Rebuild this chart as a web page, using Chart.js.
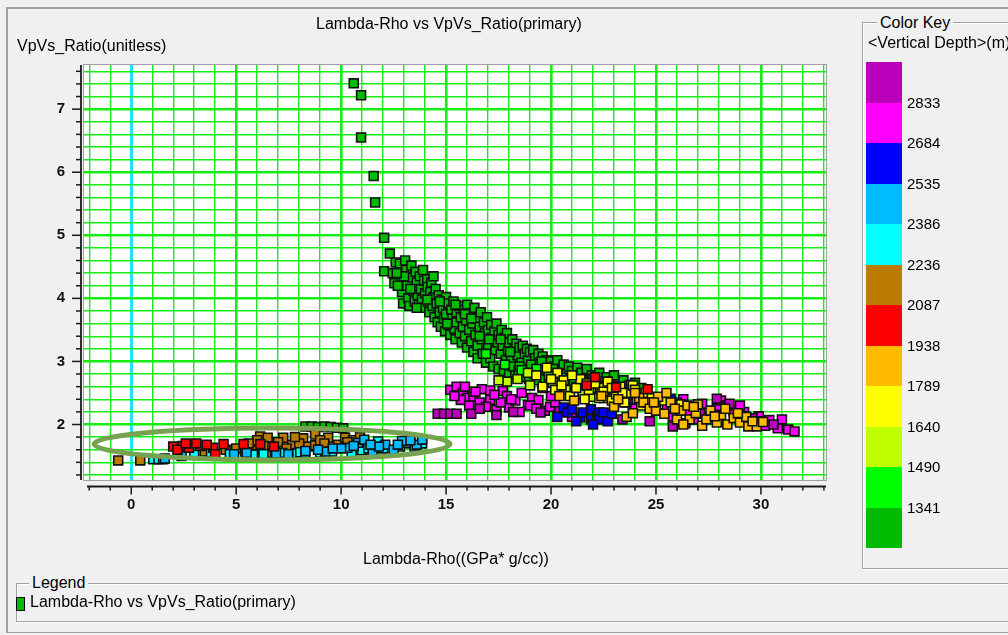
<!DOCTYPE html>
<html><head><meta charset="utf-8">
<script src="https://cdn.jsdelivr.net/npm/chart.js@4/dist/chart.umd.min.js"></script>
<style>
html,body{margin:0;padding:0;background:#f0f0f0;}
body{width:1008px;height:635px;position:relative;overflow:hidden;font-family:"Liberation Sans",Arial,sans-serif;font-size:16px;color:#000;}
#c{position:absolute;left:0;top:0;}
.t{position:absolute;white-space:nowrap;line-height:18px;}
.ln{position:absolute;background:#a0a0a0;}
.gb{position:absolute;border:1px solid #a0a0a0;box-shadow:inset 1px 1px 0 #fff,1px 1px 0 #fff;}
.lab{background:#f0f0f0;padding:0 3px;}
#bar{position:absolute;left:866px;top:62px;width:36px;height:486px;display:flex;flex-direction:column;}
#bar div{flex:1;}
.kl{position:absolute;left:907px;font-size:15px;line-height:18px;}
#lgm{position:absolute;left:16px;top:597px;width:7px;height:12px;border:1.5px solid #000;}
</style></head><body>
<canvas id="c" width="1008" height="635"></canvas>
<div class="ln" style="left:6px;top:7px;width:1002px;height:2px"></div>
<div class="ln" style="left:6px;top:7px;width:2px;height:626px"></div>
<div class="ln" style="left:6px;top:632px;width:1002px;height:1px"></div>
<div class="gb" style="left:862px;top:22px;width:200px;height:545px"></div>
<div class="gb" style="left:16px;top:583px;width:1000px;height:37px"></div>
<div class="t" id="title" style="left:316px;top:15px"></div>
<div class="t" id="ytitle" style="left:17px;top:37px"></div>
<div class="t" id="xtitle" style="left:363px;top:550px"></div>
<div class="t lab" id="ckey" style="left:877px;top:14px"></div>
<div class="t" id="cunit" style="left:868px;top:34px"></div>
<div id="bar"></div>
<div class="t lab" id="lgtitle" style="left:29px;top:574px"></div>
<div id="lgm"></div>
<div class="t" id="lgtext" style="left:30px;top:593px"></div>
<script>
// ---------- text ----------
const chartTitle = 'Lambda-Rho vs VpVs_Ratio(primary)';
const xAxisTitle = 'Lambda-Rho((GPa* g/cc))';
const yAxisTitle = 'VpVs_Ratio(unitless)';
const keyTitle = 'Color Key';
const keyUnit = '<Vertical Depth>(m)';
const legendTitle = 'Legend';
const seriesName = 'Lambda-Rho vs VpVs_Ratio(primary)';

// ---------- colour key (top to bottom) ----------
const keyColors = ['#bb00bb','#ff00ff','#0000ff','#00bbff','#00ffff','#bb7a00','#ff0000','#ffbb00','#ffff00','#bfff00','#00ff00','#00bb00'];
const keyLabels = ['2833','2684','2535','2386','2236','2087','1938','1789','1640','1490','1341'];

// ---------- axis ranges ----------
const xRange = [-2.25, 33.1];
const yRange = [1.12, 7.7];
const xStep = 1, yStep = 0.2;
const xLabelEvery = 5, yLabelEvery = 1;

// ---------- annotation ellipse (data units) ----------
const ellipseCenter = [6.71, 1.69];
const ellipseRadii = [8.48, 0.253];

// ---------- series values [Lambda-Rho, VpVs] by depth bin ----------
const depthBelow1341 = [
[10.6,7.41],[10.95,7.22],[10.95,6.55],[11.55,5.94],[11.62,5.52],[12.05,4.96],[12.32,4.71],[12.6,4.57],[12.05,4.43],[12.46,4.4],[12.54,4.24],
[12.8,4.55],[12.9,4.3],[12.9,4.1],[12.95,3.92],[13.05,4.6],[13.1,4.45],[13.15,4.2],[13.2,4.0],[13.25,3.88],[13.35,4.52],[13.4,4.33],[13.45,4.12],[13.5,3.95],
[13.55,4.42],[13.6,4.25],[13.65,4.05],[13.7,3.9],[13.75,4.35],[13.8,4.15],[13.85,3.98],[13.9,4.45],[13.95,4.28],[14.0,3.85],[14.0,4.08],
[14.1,4.3],[14.12,4.18],[14.15,3.95],[14.2,3.78],[14.25,4.1],[14.3,4.25],[14.35,3.88],[14.4,4.02],[14.45,3.7],[14.5,4.15],
[14.55,3.92],[14.6,3.62],[14.65,4.05],[14.7,3.78],[14.75,3.55],[14.8,3.98],[14.85,3.85],[14.9,3.68],[14.95,3.48],[15.0,4.02],[15.0,3.75],
[15.1,3.92],[15.12,3.58],[15.2,3.42],[15.25,3.82],[15.3,3.68],[15.35,3.95],[15.4,3.52],[15.45,3.35],[15.5,3.78],[15.5,3.62],
[15.6,3.88],[15.65,3.45],[15.7,3.7],[15.75,3.3],[15.8,3.55],[15.85,3.82],[15.9,3.4],[15.95,3.65],[16.0,3.22],[16.0,3.9],
[16.1,3.5],[16.15,3.75],[16.2,3.32],[16.25,3.6],[16.3,3.15],[16.35,3.85],[16.4,3.42],[16.45,3.68],[16.5,3.25],[16.5,3.05],
[16.6,3.55],[16.65,3.78],[16.7,3.35],[16.75,3.12],[16.8,3.62],[16.85,3.45],[16.9,2.98],[16.95,3.7],[17.0,3.25],[17.0,3.5],
[17.1,3.05],[17.15,3.58],[17.2,3.38],[17.25,2.92],[17.3,3.48],[17.35,3.18],[17.4,3.6],[17.45,3.3],[17.5,2.88],[17.5,3.42],
[17.6,3.12],[17.65,3.5],[17.7,3.25],[17.75,2.85],[17.8,3.38],[17.85,3.02],[17.9,3.45],[17.95,3.18],[18.0,2.8],[18.0,3.3],
[18.1,3.05],[18.15,3.35],[18.2,2.92],[18.25,3.2],[18.3,2.78],[18.35,3.28],[18.4,3.1],[18.45,2.85],[18.5,3.22],
[18.6,2.98],[18.65,3.25],[18.7,2.75],[18.75,3.12],[18.8,2.88],[18.85,3.2],[18.9,3.02],[18.95,2.72],[19.0,3.15],
[19.1,2.92],[19.15,3.18],[19.2,2.8],[19.25,3.05],[19.3,2.7],[19.4,3.12],[19.45,2.95],[19.5,2.82],
[19.6,3.08],[19.65,2.9],[19.7,2.72],[19.8,3.02],[19.85,2.85],[19.9,2.68],[20.0,3.0],[20.0,2.8],
[20.15,2.92],[20.25,2.75],[20.3,3.02],[20.45,2.85],[20.55,2.68],[20.6,2.95],[20.75,2.8],[20.85,2.92],[20.9,2.62],[21.0,2.85],
[21.15,2.75],[21.25,2.9],[21.35,2.62],[21.45,2.82],[21.6,2.72],[21.7,2.88],[21.85,2.6],[21.95,2.78],
[22.15,2.7],[22.3,2.82],[22.5,2.62],[22.65,2.75],[22.85,2.68],[23.0,2.78],[23.2,2.62],[23.45,2.7],[23.7,2.62],[24.0,2.66],[24.3,2.58],
[13.0,4.35],[13.3,4.15],[13.6,3.85],[14.1,3.98],[14.4,4.35],[14.7,3.95],[15.05,3.6],[15.45,3.9],[15.9,3.75],[16.2,3.68],[16.6,3.4],[17.05,3.35],[17.6,3.35],[18.05,3.15],[18.5,2.92],[19.05,2.95],[19.55,3.0],[20.1,2.88],[20.7,2.72],[21.5,2.7],[22.0,2.72],[12.7,4.2],[12.65,4.4],
[8.3,1.97],[8.6,1.97],[8.9,1.96],[9.2,1.97],[9.5,1.96],[9.8,1.95],[10.1,1.94]
];
const depth1341to1490 = [[17.8,2.95],[18.6,2.86],[19.3,2.88],[19.9,2.78],[20.5,2.74],[21.1,2.68],[21.8,2.66],[22.6,2.6],[16.9,3.12],[20.2,2.62]];
const depth1490to1640 = [[18.4,2.72],[19.0,2.62],[19.6,2.58],[20.1,2.66],[20.7,2.55],[21.2,2.6],[21.9,2.52],[22.4,2.58],[23.0,2.55],[21.5,2.48],[22.0,2.44],[18.9,2.82],[23.5,2.5],[17.9,2.68],[17.5,2.7],[22.5,2.42]];
const depth1640to1789 = [[19.3,2.78],[19.8,2.9],[20.3,2.82],[19.6,2.6],[20.2,2.55],[20.6,2.7],[20.9,2.45],[21.2,2.58],[21.4,2.72],[21.6,2.4],[21.8,2.55],[22.1,2.65],[22.3,2.42],[22.5,2.52],[22.7,2.68],[22.9,2.38],[23.1,2.48],[23.3,2.6],[23.5,2.35],[23.7,2.5],[23.9,2.62],[24.1,2.4],[24.3,2.3],[24.5,2.5],[24.8,2.42],[25.1,2.32],[25.4,2.38],[25.8,2.28],[26.2,2.32],[20.0,2.72],[21.0,2.78],
[20.5,2.62],[21.7,2.65],[22.9,2.58],[24.0,2.55],[24.6,2.35],[23.4,2.5]];
const depth1789to1938 = [[20.4,2.45],[21.1,2.38],[22.4,2.45],[23.0,2.28],[23.6,2.12],[23.9,2.18],[24.2,2.42],[24.4,2.35],[24.7,2.25],[25.0,2.22],[25.1,2.44],[25.4,2.17],[25.7,2.35],[26.0,2.08],[26.2,2.22],[26.5,2.3],[26.6,2.08],[26.9,2.18],[27.2,1.98],[27.4,2.08],[27.6,2.22],[27.9,2.03],[28.1,2.15],[28.4,2.0],[28.7,2.1],[29.0,2.03],[29.3,2.12],[29.4,1.97],[29.8,1.97],[30.1,2.04],[24.0,2.5],[25.5,2.5],[27.0,2.32],[28.3,2.25],[23.2,2.4],[26.3,2.0],
[24.9,2.35],[25.9,2.25],[27.8,2.13],[28.9,2.18],[29.6,2.05],[26.8,2.28]];
const depth1938to2087 = [[22.1,2.75],[23.1,2.59],[24.6,2.56],[21.7,2.62],
[2.0,1.65],[2.45,1.66],[2.75,1.63],[3.3,1.66],[3.9,1.63],[4.0,1.53],[4.4,1.69],[5.35,1.69],[6.15,1.69],[6.8,1.65],[3.1,1.7],[2.2,1.6],[3.6,1.68],[2.6,1.7]];
const depth2087to2236 = [[-0.62,1.43],[0.43,1.43],[4.8,1.57],[5.43,1.57],[5.8,1.59],[5.9,1.53],[6.14,1.81],[6.5,1.79],[6.5,1.55],[6.86,1.57],[7.24,1.79],[7.67,1.68],[7.8,1.53],[8.19,1.78],[8.19,1.53],[8.43,1.65],[8.76,1.67],[8.76,1.84],[9.38,1.79],[9.86,1.68],[10.19,1.79],[10.57,1.75],[7.0,1.72],[9.0,1.75],[2.3,1.58],[3.5,1.57],[4.5,1.6],[10.9,1.8],[6.0,1.75],
[5.0,1.62],[6.3,1.66],[7.4,1.62],[8.0,1.7],[9.2,1.7],[10.3,1.72],[5.6,1.7],[7.8,1.8]];
const depth2236to2386 = [[1.05,1.45],[1.3,1.45],[1.52,1.45],[4.7,1.53],[7.9,1.54],[8.05,1.56],[8.29,1.55],[9.57,1.57],[11.0,1.59],[11.76,1.73],[12.33,1.57],[12.8,1.65],[13.3,1.7],[13.86,1.7],[10.5,1.56],[5.8,1.52],
[3.0,1.52],[3.8,1.55],[6.3,1.53],[7.2,1.55],[9.0,1.55],[11.3,1.62],[12.0,1.62],[13.5,1.65]];
const depth2386to2535 = [[10.3,1.63],[10.8,1.71],[11.1,1.76],[11.5,1.57],[12.1,1.68],[12.5,1.6],[13.05,1.71],[13.6,1.68],[13.86,1.76],[9.24,1.57],[8.9,1.6],[7.48,1.53],[4.9,1.53],[1.6,1.46],[11.8,1.65],[12.9,1.74],[10.0,1.62],[11.4,1.68],[6.9,1.54],[9.6,1.62],
[2.4,1.5],[5.5,1.55],[8.3,1.58],[10.6,1.66],[12.7,1.68],[13.3,1.75]];
const depth2535to2684 = [[20.6,2.27],[20.8,2.19],[21.0,2.24],[21.4,2.11],[21.5,2.19],[21.9,2.24],[21.9,2.08],[22.2,2.13],[22.3,2.19],[22.3,2.08],[22.5,2.19],[22.7,2.05],[22.9,2.17],[23.6,2.35],[25.7,2.41],[28.9,2.13],[29.1,2.13],[21.2,2.05],[22.0,2.0],[20.3,2.12]];
const depth2684to2833 = [[15.2,2.55],[15.5,2.6],[15.8,2.5],[16.0,2.42],[16.3,2.44],[16.6,2.35],[16.7,2.56],[17.1,2.54],[17.1,2.39],[17.4,2.23],[17.7,2.53],[17.9,2.45],[18.0,2.27],[18.3,2.38],[18.6,2.5],[18.9,2.31],[19.1,2.42],[19.4,2.39],[19.7,2.22],[19.95,2.28],[20.2,2.35],[15.7,2.39],[16.1,2.3],[16.9,2.28],[17.6,2.35],[18.5,2.2],[20.5,2.2],[21.0,2.12],[15.4,2.45],
[16.4,2.52],[17.3,2.47],[18.1,2.4],[19.0,2.3],[15.9,2.6],[20.0,2.45],[19.3,2.25],
[25.5,2.29],[25.8,2.13],[26.3,2.4],[26.6,2.21],[26.8,2.08],[27.2,2.33],[27.9,2.25],[28.1,2.38],[28.7,2.21],[29.5,2.08],[29.9,2.13],[30.4,2.07],[30.8,1.94],[31.0,2.08],[31.3,1.92],[31.6,1.89],[27.6,2.12],[28.4,2.3],[29.2,2.2],[26.0,2.35],[24.8,2.3],[23.9,2.25],[30.2,1.98],
[27.0,2.2],[28.0,2.15],[30.0,2.05],[29.0,2.3]];
const depthAbove2833 = [[14.6,2.17],[14.9,2.17],[15.2,2.17],[15.5,2.17],[16.2,2.17],[17.4,2.15],[23.8,2.63],[26.0,2.25],[26.8,2.28],[27.1,2.17],[27.9,2.41],[28.5,2.33],[25.8,1.97],[26.4,2.02],[24.7,2.05],[23.4,2.08],[19.5,2.19],[20.4,2.21],[18.2,2.2],[16.6,2.25],[29.6,2.1],[30.6,2.0]];

// series in colour-key order (top to bottom) with draw order (1 = on top)
const seriesData = [depthAbove2833, depth2684to2833, depth2535to2684, depth2386to2535, depth2236to2386, depth2087to2236, depth1938to2087, depth1789to1938, depth1640to1789, depth1490to1640, depth1341to1490, depthBelow1341];
const drawOrder = [9, 10, 8, 5, 6, 7, 1, 2, 3, 4, 11, 12];

// ---------- HTML text ----------
document.getElementById('title').textContent = chartTitle;
document.getElementById('ytitle').textContent = yAxisTitle;
document.getElementById('xtitle').textContent = xAxisTitle;
document.getElementById('ckey').textContent = keyTitle;
document.getElementById('cunit').textContent = keyUnit;
document.getElementById('lgtitle').textContent = legendTitle;
document.getElementById('lgtext').textContent = seriesName;
document.getElementById('lgm').style.background = keyColors[keyColors.length - 1];
const bar = document.getElementById('bar');
keyColors.forEach(c => { const d = document.createElement('div'); d.style.background = c; bar.appendChild(d); });
const bandH = 486 / keyColors.length;
keyLabels.forEach((l, i) => {
  const d = document.createElement('div'); d.className = 'kl'; d.textContent = l;
  d.style.top = (62 + (i + 1) * bandH - 9) + 'px'; document.body.appendChild(d);
});

// ---------- chart ----------
Chart.defaults.font.family = "'Liberation Sans', Arial, sans-serif";
const isMult = (v, m) => Math.abs(v / m - Math.round(v / m)) < 1e-6;

const deco = {
  id: 'deco',
  beforeDraw(chart) {
    const {ctx, chartArea: a} = chart;
    ctx.save(); ctx.fillStyle = '#fff';
    ctx.fillRect(a.left, a.top, a.right - a.left, a.bottom - a.top); ctx.restore();
  },
  afterDatasetsDraw(chart) {
    const {ctx} = chart; const xs = chart.scales.x, ys = chart.scales.y;
    const cx = xs.getPixelForValue(ellipseCenter[0]), cy = ys.getPixelForValue(ellipseCenter[1]);
    const rx = Math.abs(xs.getPixelForValue(ellipseCenter[0] + ellipseRadii[0]) - cx);
    const ry = Math.abs(ys.getPixelForValue(ellipseCenter[1] + ellipseRadii[1]) - cy);
    ctx.save(); ctx.strokeStyle = '#77a24f'; ctx.lineWidth = 5;
    ctx.beginPath(); ctx.ellipse(cx, cy, rx, ry, 0, 0, Math.PI * 2); ctx.stroke(); ctx.restore();
  },
  afterDraw(chart) {
    const {ctx, chartArea: a} = chart; const xs = chart.scales.x, ys = chart.scales.y;
    ctx.save();
    ctx.strokeStyle = '#a0a0a0'; ctx.lineWidth = 1;
    ctx.strokeRect(a.left - 0.5, a.top - 0.5, a.right - a.left + 1, a.bottom - a.top + 1);
    ctx.strokeStyle = '#1a1a1a'; ctx.lineWidth = 1.8;
    const xl = a.bottom + 6.5, yl = a.left - 3;
    ctx.beginPath(); ctx.moveTo(a.left + 3, xl); ctx.lineTo(a.right, xl); ctx.stroke();
    ctx.beginPath(); ctx.moveTo(yl, a.top); ctx.lineTo(yl, a.bottom); ctx.stroke();
    ctx.lineWidth = 1.5;
    xs.ticks.forEach(t => {
      const p = xs.getPixelForValue(t.value); const len = isMult(t.value, xLabelEvery) ? 8 : 4;
      ctx.beginPath(); ctx.moveTo(p, xl); ctx.lineTo(p, xl + len); ctx.stroke();
    });
    ys.ticks.forEach(t => {
      const p = ys.getPixelForValue(t.value); const len = isMult(t.value, yLabelEvery) ? 9 : 5;
      ctx.beginPath(); ctx.moveTo(yl, p); ctx.lineTo(yl - len, p); ctx.stroke();
    });
    ctx.restore();
  }
};

const gridColor = (ctx) => (ctx.tick && Math.abs(ctx.tick.value) < 1e-9 && ctx.scale.axis === 'x') ? '#22e0ff' : '#14ee14';
const gridWidth = (every) => (ctx) => {
  if (!ctx.tick) return 1;
  const v = ctx.tick.value;
  if (ctx.scale.axis === 'x' && Math.abs(v) < 1e-9) return 3;
  return isMult(v, every) ? 2.6 : 1.4;
};

new Chart(document.getElementById('c'), {
  type: 'scatter',
  data: {
    datasets: seriesData.map((d, i) => ({
      label: keyLabels[i] || '',
      data: d.map(p => ({x: p[0], y: p[1]})),
      backgroundColor: keyColors[i],
      borderColor: '#111',
      borderWidth: 1.6,
      pointStyle: 'rect',
      pointRadius: 6.3,
      order: drawOrder[i]
    }))
  },
  options: {
    responsive: false, animation: false, devicePixelRatio: 1,
    layout: {padding: {left: 0, top: 65, right: 182, bottom: 0}},
    plugins: {legend: {display: false}, tooltip: {enabled: false}, title: {display: false}},
    scales: {
      x: {
        type: 'linear', min: xRange[0], max: xRange[1],
        afterFit: s => { s.height = 155; },
        border: {display: false},
        grid: {color: gridColor, lineWidth: gridWidth(xLabelEvery), drawTicks: false},
        ticks: {stepSize: xStep, includeBounds: false, autoSkip: false, maxRotation: 0, padding: 16,
          color: '#111', font: {size: 15, weight: 'bold'},
          callback: v => isMult(v, xLabelEvery) ? String(Math.round(v)) : ''}
      },
      y: {
        type: 'linear', min: yRange[0], max: yRange[1],
        afterFit: s => { s.width = 84; },
        border: {display: false},
        grid: {color: gridColor, lineWidth: gridWidth(yLabelEvery), drawTicks: false},
        ticks: {stepSize: yStep, includeBounds: false, autoSkip: false, padding: 19,
          color: '#111', font: {size: 15, weight: 'bold'},
          callback: v => isMult(v, yLabelEvery) ? String(Math.round(v)) : ''}
      }
    }
  },
  plugins: [deco]
});
</script>
</body></html>
